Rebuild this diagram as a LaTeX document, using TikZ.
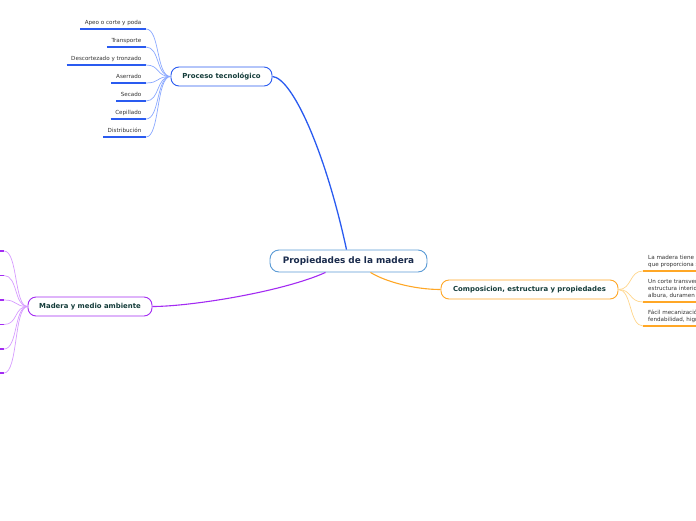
\documentclass[tikz,border=0pt]{standalone}
\usepackage{fontspec}
\setmainfont{DejaVu Sans}
\usetikzlibrary{positioning}
\definecolor{central}{HTML}{5B9BD5}
\definecolor{proc}{HTML}{2A5BF0}
\definecolor{procleaf}{HTML}{8AA8FF}
\definecolor{comp}{HTML}{FFA726}
\definecolor{compleaf}{HTML}{FFD58A}
\definecolor{medio}{HTML}{A32BF2}
\definecolor{medioleaf}{HTML}{D69BFF}
\definecolor{titletext}{HTML}{143C3A}
\definecolor{maintext}{HTML}{1A2B4C}

\begin{document}
\begin{tikzpicture}[x=1pt,y=-1pt,
  topic/.style={draw,rounded corners=8pt,line width=0.9pt,fill=white,text=titletext,
    font=\fontsize{6.9}{8}\selectfont\bfseries,minimum height=19pt,inner sep=0pt},
  leaf/.style={font=\fontsize{5.6}{7}\selectfont,text=black!80,inner xsep=4.5pt,inner ysep=3pt,text depth=1.2pt},
  rleaf/.style={font=\fontsize{5.6}{7}\selectfont,text=black!80,inner xsep=5pt,inner ysep=3pt,align=left},
  uline/.style={line width=1.6pt},
  twig/.style={line width=0.7pt}]
  \clip (0,0) rectangle (696,520);

  % main topic and branches
  \node[draw=central,rounded corners=9pt,line width=0.9pt,fill=white,text=maintext,
    font=\fontsize{8.9}{10}\selectfont\bfseries,minimum width=157pt,minimum height=22pt,inner sep=0pt]
    (root) at (348.5,261) {Propiedades de la madera};
  \node[topic,draw=proc,minimum width=101pt] (proc) at (221.5,76.5) {Proceso tecnológico};
  \node[topic,draw=comp,minimum width=177pt] (comp) at (529.5,289.5) {Composicion, estructura y propiedades};
  \node[topic,draw=medio,minimum width=124pt] (medio) at (90,306.5) {Madera y medio ambiente};

  \draw[proc,line width=1.3pt] ([xshift=-2pt]root.north) .. controls (325,150) and (292,78) .. (proc.east);
  \draw[comp,line width=1.1pt] ([xshift=22pt]root.south) .. controls (386,282) and (415,289.5) .. (comp.west);
  \draw[medio,line width=1.1pt] ([xshift=-23pt]root.south) .. controls (282,292) and (190,306.5) .. (medio.east);

  % Proceso tecnologico
  \node[leaf,anchor=south east] (p1) at (146,29) {Apeo o corte y poda};
  \node[leaf,anchor=south east] (p2) at (146,47) {Transporte};
  \node[leaf,anchor=south east] (p3) at (146,65) {Descortezado y tronzado};
  \node[leaf,anchor=south east] (p4) at (146,83) {Aserrado};
  \node[leaf,anchor=south east] (p5) at (146,101) {Secado};
  \node[leaf,anchor=south east] (p6) at (146,119) {Cepillado};
  \node[leaf,anchor=south east] (p7) at (146,137) {Distribución};
  \draw[uline,proc] (p1.south west) -- (p1.south east);
  \draw[uline,proc] (p2.south west) -- (p2.south east);
  \draw[uline,proc] (p3.south west) -- (p3.south east);
  \draw[uline,proc] (p4.south west) -- (p4.south east);
  \draw[uline,proc] (p5.south west) -- (p5.south east);
  \draw[uline,proc] (p6.south west) -- (p6.south east);
  \draw[uline,proc] (p7.south west) -- (p7.south east);
  \draw[twig,procleaf] (p1.south east) .. controls (160,29) and (156,76.5) .. (proc.west);
  \draw[twig,procleaf] (p2.south east) .. controls (160,47) and (156,76.5) .. (proc.west);
  \draw[twig,procleaf] (p3.south east) .. controls (160,65) and (156,76.5) .. (proc.west);
  \draw[twig,procleaf] (p4.south east) .. controls (160,83) and (156,76.5) .. (proc.west);
  \draw[twig,procleaf] (p5.south east) .. controls (160,101) and (156,76.5) .. (proc.west);
  \draw[twig,procleaf] (p6.south east) .. controls (160,119) and (156,76.5) .. (proc.west);
  \draw[twig,procleaf] (p7.south east) .. controls (160,137) and (156,76.5) .. (proc.west);

  % Composicion, estructura y propiedades
  \node[rleaf,anchor=south west] (c1) at (643,271) {La madera tiene una estructura\\que proporciona su resistencia};
  \node[rleaf,anchor=south west] (c2) at (643,302) {Un corte transversal muestra la\\estructura interior del tronco:\\albura, duramen y médula};
  \node[rleaf,anchor=south west] (c3) at (643,326) {Fácil mecanización, buena\\fendabilidad, higroscopicidad};
  \draw[uline,comp] (c1.south west) -- (c1.south east);
  \draw[uline,comp] (c2.south west) -- (c2.south east);
  \draw[uline,comp] (c3.south west) -- (c3.south east);
  \draw[twig,compleaf] (comp.east) .. controls (632,289.5) and (629,271) .. (c1.south west);
  \draw[twig,compleaf] (comp.east) .. controls (632,289.5) and (629,302) .. (c2.south west);
  \draw[twig,compleaf] (comp.east) .. controls (632,289.5) and (629,326) .. (c3.south west);

  % Madera y medio ambiente
  \coordinate (m1) at (4,251);
  \coordinate (m2) at (4,275.5);
  \coordinate (m3) at (4,300);
  \coordinate (m4) at (4,324.5);
  \coordinate (m5) at (4,349);
  \coordinate (m6) at (4,373);
  \draw[uline,medio] ([xshift=-10pt]m1) -- (m1);
  \draw[uline,medio] ([xshift=-10pt]m2) -- (m2);
  \draw[uline,medio] ([xshift=-10pt]m3) -- (m3);
  \draw[uline,medio] ([xshift=-10pt]m4) -- (m4);
  \draw[uline,medio] ([xshift=-10pt]m5) -- (m5);
  \draw[uline,medio] ([xshift=-10pt]m6) -- (m6);
  \draw[twig,medioleaf] (m1) .. controls (18,251) and (14,306.5) .. (medio.west);
  \draw[twig,medioleaf] (m2) .. controls (18,275.5) and (14,306.5) .. (medio.west);
  \draw[twig,medioleaf] (m3) .. controls (18,300) and (14,306.5) .. (medio.west);
  \draw[twig,medioleaf] (m4) .. controls (18,324.5) and (14,306.5) .. (medio.west);
  \draw[twig,medioleaf] (m5) .. controls (18,349) and (14,306.5) .. (medio.west);
  \draw[twig,medioleaf] (m6) .. controls (18,373) and (14,306.5) .. (medio.west);
\end{tikzpicture}
\end{document}
